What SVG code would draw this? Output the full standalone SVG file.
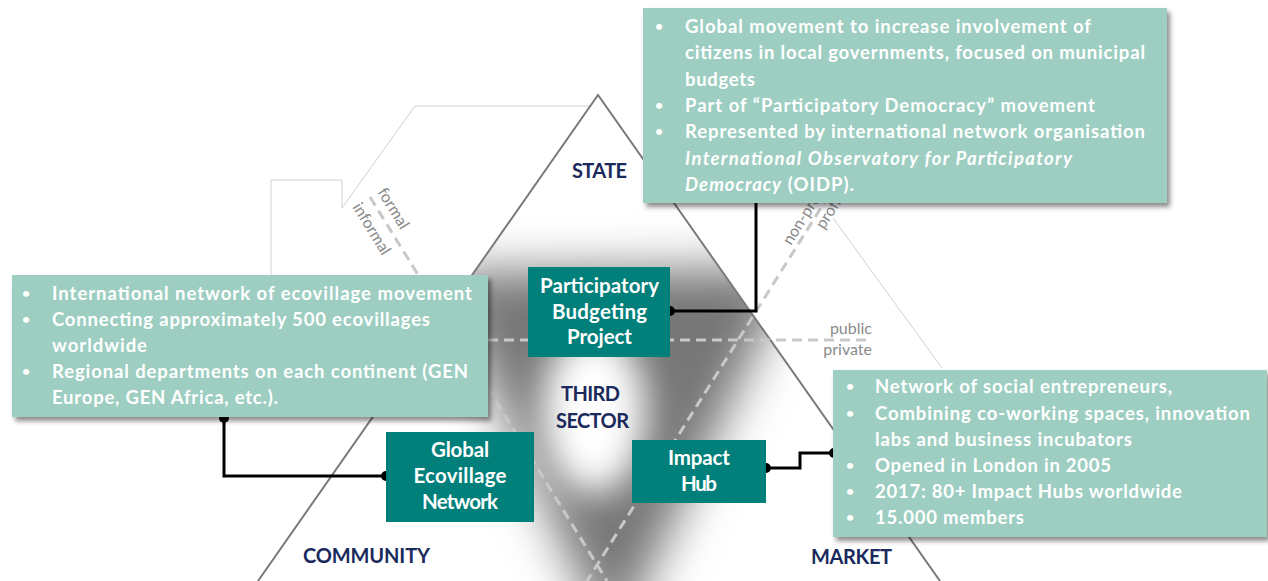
<svg xmlns="http://www.w3.org/2000/svg" width="1268" height="581" viewBox="0 0 1268 581">
<defs>
<style>
.info{fill:#9dcec1;filter:url(#ds)}
.node{fill:#017f7b}
.it{font-family:Lato,"Open Sans",sans-serif;font-weight:bold;font-size:18.5px;fill:#fff}
.bu{font-family:Lato,"Open Sans",sans-serif;font-weight:bold;font-size:14px;fill:#fff}
.nt{font-family:Lato,"Open Sans",sans-serif;font-weight:bold;font-size:20.5px;fill:#fff;text-anchor:middle}
.lbl{font-family:Lato,"Open Sans",sans-serif;font-weight:bold;font-size:20px;fill:#1b2a5c;text-anchor:middle}
.axis{font-family:Lato,"Open Sans",sans-serif;font-size:16px;fill:#8a8a8a}
.dash{stroke:#c8c8c8;stroke-width:3;stroke-dasharray:10 6;fill:none}
.edge{stroke:#7a7a7a;stroke-width:2;fill:none}
.faint{stroke:#d0d0d0;stroke-width:1;fill:none}
.conn{stroke:#000;stroke-width:3;fill:none}
.dot{fill:#000}
</style>
<filter id="ds" x="-10%" y="-10%" width="120%" height="130%">
<feDropShadow dx="3" dy="4" stdDeviation="2.5" flood-color="#000" flood-opacity="0.45"/>
</filter>
<filter id="blur" x="-50%" y="-50%" width="200%" height="200%"><feGaussianBlur stdDeviation="24"/></filter>
<filter id="blur2" x="-50%" y="-50%" width="200%" height="200%"><feGaussianBlur stdDeviation="18"/></filter>
<clipPath id="tri"><polygon points="598,95 258,581 940,581"/></clipPath>
</defs>
<rect width="1268" height="581" fill="#fff"/>

<g id="background">
<g clip-path="url(#tri)">
<polygon points="438,272 795,268 612,650" fill="#767676" filter="url(#blur)"/>
<ellipse cx="594" cy="412" rx="52" ry="82" fill="#fff" filter="url(#blur2)"/>
</g>
<polyline class="faint" points="590,106 415,106 342,208 342,180 271,180 271,280"/>
<line class="faint" x1="833" y1="218" x2="942" y2="368"/>
<polyline class="edge" points="258,581 598,95 940,581"/>
<line class="dash" x1="370" y1="197" x2="607" y2="581"/>
<line class="dash" x1="829" y1="195" x2="587" y2="581"/>
<line class="dash" x1="488" y1="340" x2="870" y2="340"/>
<text class="axis" transform="translate(377,192) rotate(58.3)">formal</text>
<text class="axis" transform="translate(352,207) rotate(58.3)">informal</text>
<text class="axis" transform="translate(791,246) rotate(-57.8)">non-profit</text>
<text class="axis" transform="translate(824,230) rotate(-57.8)">profit</text>
<text class="axis" x="872" y="334" text-anchor="end">public</text>
<text class="axis" x="872" y="355" text-anchor="end">private</text>
<text class="lbl" x="599.5" y="178" textLength="55">STATE</text>
<text class="lbl" x="590.5" y="401" textLength="59">THIRD</text>
<text class="lbl" x="592.5" y="428" textLength="73">SECTOR</text>
<text class="lbl" x="366.5" y="563" textLength="127">COMMUNITY</text>
<text class="lbl" x="851.5" y="564" textLength="81">MARKET</text>
</g>

<g id="connectors">
<polyline class="conn" points="670,311 756,311 756,177"/>
<circle class="dot" cx="670" cy="311" r="5"/>
<circle class="dot" cx="756" cy="177" r="5"/>
<polyline class="conn" points="766,468 800,468 800,453 834,453"/>
<circle class="dot" cx="766" cy="468" r="5"/>
<circle class="dot" cx="834" cy="453" r="5"/>
<polyline class="conn" points="386,476 224,476 224,418"/>
<circle class="dot" cx="386" cy="476" r="5"/>
<circle class="dot" cx="224" cy="418" r="5"/>
</g>

<g id="gen-info">
<rect class="info" x="12" y="275" width="476" height="142"/>
<text class="bu" x="22" y="298">•</text>
<text class="bu" x="22" y="324">•</text>
<text class="bu" x="22" y="376">•</text>
<text class="it" x="52" y="300" textLength="420">International network of ecovillage movement</text>
<text class="it" x="52" y="326" textLength="378">Connecting approximately 500 ecovillages</text>
<text class="it" x="52" y="352" textLength="95">worldwide</text>
<text class="it" x="52" y="378" textLength="416">Regional departments on each continent (GEN</text>
<text class="it" x="52" y="404" textLength="226">Europe, GEN Africa, etc.).</text>
</g>

<g id="pb-info">
<rect class="info" x="643" y="8" width="524" height="195"/>
<text class="bu" x="655" y="31">•</text>
<text class="bu" x="655" y="110">•</text>
<text class="bu" x="655" y="136">•</text>
<text class="it" x="685" y="33" textLength="406">Global movement to increase involvement of</text>
<text class="it" x="685" y="59" textLength="460">citizens in local governments, focused on municipal</text>
<text class="it" x="685" y="86" textLength="70">budgets</text>
<text class="it" x="685" y="112" textLength="410">Part of “Participatory Democracy” movement</text>
<text class="it" x="685" y="138" textLength="460">Represented by international network organisation</text>
<text class="it" x="685" y="165" textLength="387" font-style="italic">International Observatory for Participatory</text>
<text class="it" x="685" y="191" textLength="169"><tspan font-style="italic">Democracy</tspan> (OIDP).</text>
</g>

<g id="ih-info">
<rect class="info" x="833" y="370" width="434" height="167"/>
<text class="bu" x="846" y="391">•</text>
<text class="bu" x="846" y="418">•</text>
<text class="bu" x="846" y="470">•</text>
<text class="bu" x="846" y="496">•</text>
<text class="bu" x="846" y="522">•</text>
<text class="it" x="875" y="393" textLength="297">Network of social entrepreneurs,</text>
<text class="it" x="875" y="420" textLength="375">Combining co-working spaces, innovation</text>
<text class="it" x="875" y="446" textLength="257">labs and business incubators</text>
<text class="it" x="875" y="472" textLength="236">Opened in London in 2005</text>
<text class="it" x="875" y="498" textLength="307">2017: 80+ Impact Hubs worldwide</text>
<text class="it" x="875" y="524" textLength="149">15.000 members</text>
</g>

<g id="pb-node">
<rect class="node" x="528" y="267" width="142" height="90"/>
<text class="nt" x="599.5" y="293" textLength="119">Participatory</text>
<text class="nt" x="599.5" y="319" textLength="95">Budgeting</text>
<text class="nt" x="599.5" y="344" textLength="65">Project</text>
</g>

<g id="ih-node">
<rect class="node" x="632" y="440" width="134" height="63"/>
<text class="nt" x="699" y="465" textLength="62">Impact</text>
<text class="nt" x="699" y="491" textLength="36">Hub</text>
</g>

<g id="gen-node">
<rect class="node" x="386" y="432" width="148" height="90"/>
<text class="nt" x="460" y="457" textLength="58">Global</text>
<text class="nt" x="460" y="483" textLength="93">Ecovillage</text>
<text class="nt" x="460" y="509" textLength="76">Network</text>
</g>
</svg>
